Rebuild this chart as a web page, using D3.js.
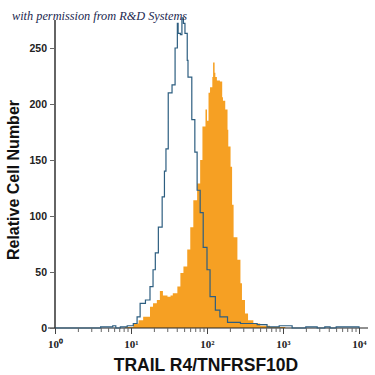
<!DOCTYPE html>
<html><head><meta charset="utf-8">
<script src="https://cdn.jsdelivr.net/npm/d3@7/dist/d3.min.js"></script>
<style>html,body{margin:0;padding:0;background:#fff;}</style>
</head><body>
<svg id="c" width="375" height="375"></svg>
<script>
// ---- data (log10 of fluorescence intensity, relative cell number) ----
const blueLog   = [0.00,0.55,0.60,0.76,0.80,0.86,0.95,1.03,1.08,1.12,1.19,1.25,1.29,1.32,1.36,1.41,1.44,1.46,1.49,1.54,1.58,1.61,1.62,1.65,1.67,1.69,1.71,1.74,1.75,1.80,1.84,1.87,1.91,1.95,2.00,2.04,2.11,2.17,2.27,2.44,2.66,2.79,2.95,3.05,3.12,3.30,3.45,3.55,3.62,3.70,4.00];
const blueCount = [0,   0,   1,   2,   0,   1,   2,   4,   10,  22,  25,  37,  52,  67,  90,  117, 140, 160, 210, 217, 250, 272, 263, 262, 277, 272, 263, 239, 224, 186, 157, 123, 103, 72,  52,  28,  16,  10,  5,   4,   3,   1,   2,   2,   0,   1,   0,   1,   0,   1,   0];
const orangeLog   = [0.86,0.92,1.03,1.10,1.16,1.25,1.29,1.34,1.38,1.42,1.48,1.52,1.55,1.61,1.65,1.69,1.74,1.78,1.82,1.87,1.91,1.94,1.98,2.00,2.02,2.04,2.07,2.08,2.10,2.11,2.13,2.17,2.20,2.21,2.24,2.27,2.28,2.31,2.33,2.35,2.40,2.44,2.46,2.50,2.54,2.61,2.70,2.83,3.03];
const orangeCount = [0,   1,   4,   7,   10,  19,  22,  25,  33,  29,  28,  29,  31,  37,  49,  55,  70,  90,  114, 129, 150, 180, 195, 185, 210, 215, 224, 237, 228, 224, 221, 220, 206, 203, 195, 177, 162, 144, 110, 81,  61,  40,  25,  13,  7,   4,   2,   1,   0];
const yTicks = [0, 50, 100, 150, 200, 250];
const xTickExps = [0, 1, 2, 3, 4];
const supers = {"0":"\u2070","1":"\u00B9","2":"\u00B2","3":"\u00B3","4":"\u2074"};
const xTitle = "TRAIL R4/TNFRSF10D";
const yTitle = "Relative Cell Number";
const credit = "with permission from R&D Systems";

const svg = d3.select("#c");
const x = d3.scaleLog().domain([1, 10000]).range([55, 359]);
const y = d3.scaleLinear().domain([0, 275]).range([328, 20]);

// orange filled histogram
const area = d3.area()
  .x(d => x(Math.pow(10, d[0])))
  .y0(y(0))
  .y1(d => y(d[1]))
  .curve(d3.curveStepAfter);
svg.append("path")
  .datum(orangeLog.map((v, i) => [v, orangeCount[i]]))
  .attr("d", area)
  .attr("fill", "#F6A023");

// axes lines
svg.append("line").attr("x1", 48).attr("x2", 368).attr("y1", y(0)).attr("y2", y(0))
  .attr("stroke", "#222").attr("stroke-width", 1.2);
svg.append("line").attr("x1", x(1)).attr("x2", x(1)).attr("y1", y(275)).attr("y2", y(0))
  .attr("stroke", "#111").attr("stroke-width", 1.3);

// blue outline histogram
const line = d3.line()
  .x(d => x(Math.pow(10, d[0])))
  .y(d => y(d[1]))
  .curve(d3.curveStepAfter);
svg.append("path")
  .datum(blueLog.map((v, i) => [v, blueCount[i]]))
  .attr("d", line)
  .attr("fill", "none")
  .attr("stroke", "#2D5E80")
  .attr("stroke-width", 1.2);

// y axis ticks/labels
const yAxis = d3.axisLeft(y).tickValues(yTicks).tickSize(5).tickPadding(3).tickFormat(d3.format("d"));
const gy = svg.append("g").attr("transform", `translate(${x(1)},0)`).call(yAxis);
gy.select(".domain").remove();
gy.selectAll("line").attr("stroke", "#666");
gy.selectAll("text").attr("font-family", "Liberation Sans, Arial, sans-serif")
  .attr("font-weight", "bold").attr("font-size", 10.5).attr("fill", "#222");

// x axis minor ticks
const minor = [];
for (let e = 0; e < 4; e++) for (let m = 2; m <= 9; m++) minor.push(m * Math.pow(10, e));
const gxm = svg.append("g").attr("transform", `translate(0,${y(0)})`)
  .call(d3.axisBottom(x).tickValues(minor).tickSize(4).tickFormat(""));
gxm.select(".domain").remove();
gxm.selectAll("line").attr("stroke", "#666");

// x axis major ticks
const gx = svg.append("g").attr("transform", `translate(0,${y(0)})`)
  .call(d3.axisBottom(x).tickValues(xTickExps.map(e => Math.pow(10, e))).tickSize(6).tickPadding(6)
    .tickFormat(d => "10" + supers[String(Math.round(Math.log10(d)))]));
gx.select(".domain").remove();
gx.selectAll("line").attr("stroke", "#444");
gx.selectAll("text").attr("font-family", "Liberation Serif, serif")
  .attr("font-weight", "bold").attr("font-size", 11).attr("fill", "#222");

// titles
svg.append("text").attr("x", 206).attr("y", 371).attr("text-anchor", "middle")
  .attr("font-family", "Liberation Sans, Arial, sans-serif").attr("font-weight", "bold")
  .attr("font-size", 17.5).attr("fill", "#111").text(xTitle);
svg.append("text").attr("transform", "translate(19,180) rotate(-90)").attr("text-anchor", "middle")
  .attr("font-family", "Liberation Sans, Arial, sans-serif").attr("font-weight", "bold")
  .attr("font-size", 16).attr("fill", "#111").text(yTitle);
svg.append("text").attr("x", 12).attr("y", 20)
  .attr("font-family", "Liberation Serif, serif").attr("font-style", "italic")
  .attr("font-size", 12.3).attr("fill", "#1B2850").text(credit);
</script>
</body></html>
